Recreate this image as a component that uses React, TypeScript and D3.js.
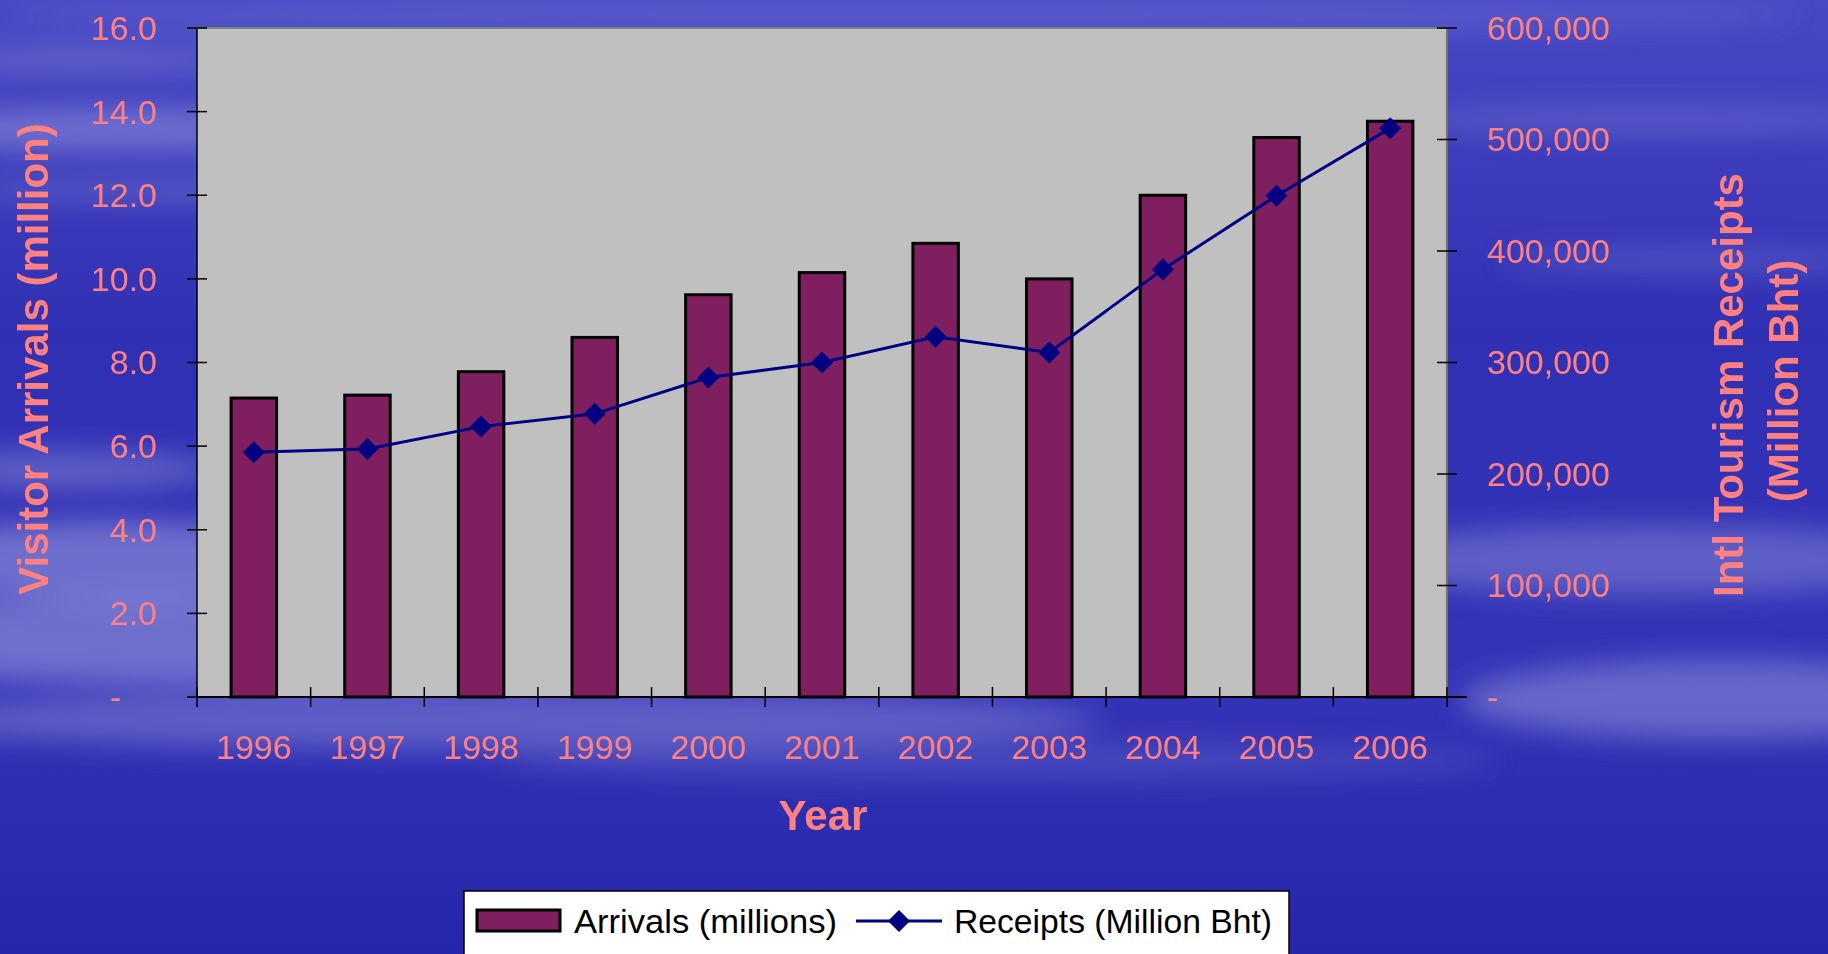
import React from "react";
import * as d3 from "d3";

const years = ["1996","1997","1998","1999","2000","2001","2002","2003","2004","2005","2006"];
const arrivals = [7.15, 7.22, 7.78, 8.6, 9.62, 10.15, 10.85, 10.0, 12.0, 13.38, 13.77];
const receipts = [219500, 222500, 242500, 254000, 286500, 300000, 323000, 309000, 383500, 449500, 510000];
const leftTicks = [0, 2, 4, 6, 8, 10, 12, 14, 16];
const rightTicks = [0, 100000, 200000, 300000, 400000, 500000, 600000];
const leftTitle = "Visitor Arrivals (million)";
const rightTitle1 = "Intl Tourism Receipts";
const rightTitle2 = "(Million Bht)";
const xTitle = "Year";
const legendBar = "Arrivals (millions)";
const legendLine = "Receipts (Million Bht)";

const W = 1828, H = 954;
const L = 197, R = 1447, T = 28, B = 697;
const SALMON = "#FF8080";
const FONT = "Arial, 'Liberation Sans', Helvetica, sans-serif";

export default function App() {
  const x = d3.scaleBand<string>().domain(years).range([L, R]).paddingInner(0.6).paddingOuter(0.3);
  const step = x.step();
  const yL = d3.scaleLinear().domain([0, 16]).range([B, T]);
  const yR = d3.scaleLinear().domain([0, 600000]).range([B, T]);
  const fmtR = d3.format(",");
  const line = d3.line<number>().x((_, i) => (x(years[i]) as number) + x.bandwidth() / 2).y(d => yR(d));
  const diamond = (cx: number, cy: number, r: number) => `M${cx},${cy - r}L${cx + r},${cy}L${cx},${cy + r}L${cx - r},${cy}Z`;
  const streaks = [
    { cx: 120, cy: 130, rx: 260, ry: 22, o: 0.35 },
    { cx: 80, cy: 60, rx: 180, ry: 12, o: 0.25 },
    { cx: 200, cy: 190, rx: 240, ry: 14, o: 0.2 },
    { cx: 120, cy: 560, rx: 260, ry: 40, o: 0.4 },
    { cx: 200, cy: 640, rx: 420, ry: 45, o: 0.4 },
    { cx: 500, cy: 720, rx: 600, ry: 30, o: 0.3 },
    { cx: 60, cy: 470, rx: 160, ry: 20, o: 0.3 },
    { cx: 1650, cy: 120, rx: 250, ry: 14, o: 0.2 },
    { cx: 1700, cy: 260, rx: 200, ry: 12, o: 0.2 },
    { cx: 1650, cy: 560, rx: 300, ry: 35, o: 0.3 },
    { cx: 1720, cy: 700, rx: 260, ry: 40, o: 0.35 },
    { cx: 1000, cy: 760, rx: 500, ry: 20, o: 0.15 },
    { cx: 900, cy: 15, rx: 900, ry: 18, o: 0.15 },
  ];
  return (
    <svg width={W} height={H} style={{ position: "fixed", left: 0, top: 0, display: "block" }} fontFamily={FONT}>
      <defs>
        <linearGradient id="bg" x1="0" y1="0" x2="0" y2="1">
          <stop offset="0" stopColor="#4848c4" />
          <stop offset="0.35" stopColor="#3030b4" />
          <stop offset="0.7" stopColor="#3434b8" />
          <stop offset="1" stopColor="#2626aa" />
        </linearGradient>
        <filter id="blur" x="-50%" y="-200%" width="200%" height="500%">
          <feGaussianBlur stdDeviation="14" />
        </filter>
      </defs>
      <rect x={0} y={0} width={W} height={H} fill="url(#bg)" />
      <g filter="url(#blur)">
        {streaks.map((s, i) => (
          <ellipse key={i} cx={s.cx} cy={s.cy} rx={s.rx} ry={s.ry} fill="#c8c8f0" opacity={s.o} />
        ))}
      </g>

      {/* plot area */}
      <rect x={L} y={T} width={R - L} height={B - T} fill="#C0C0C0" />
      <line x1={L} y1={T} x2={R} y2={T} stroke="#808080" strokeWidth={2} />
      <line x1={R} y1={T} x2={R} y2={B} stroke="#707070" strokeWidth={2} />

      {/* bars */}
      {arrivals.map((v, i) => (
        <rect key={i} x={x(years[i])} y={yL(v)} width={x.bandwidth()} height={B - yL(v)}
          fill="#7F1F5F" stroke="#000" strokeWidth={3} />
      ))}

      {/* axes lines */}
      <line x1={L} y1={T} x2={L} y2={B} stroke="#000" strokeWidth={1.5} />
      <line x1={L} y1={B} x2={R + 20} y2={B} stroke="#000" strokeWidth={2} />

      {/* left ticks */}
      {leftTicks.map(t => (
        <g key={t}>
          <line x1={L - 10} x2={L + 10} y1={yL(t)} y2={yL(t)} stroke="#000" strokeWidth={1.5} />
          {t === 0 ? (
            <text x={110} y={yL(t)} dy="0.35em" fill={SALMON} fontSize={34}>-</text>
          ) : (
            <text x={157} y={yL(t)} dy="0.35em" textAnchor="end" fill={SALMON} fontSize={34}>{t.toFixed(1)}</text>
          )}
        </g>
      ))}

      {/* right ticks */}
      {rightTicks.map(t => (
        <g key={t}>
          <line x1={R - 10} x2={R + 10} y1={yR(t)} y2={yR(t)} stroke="#000" strokeWidth={1.5} />
          <text x={1487} y={yR(t)} dy="0.35em" fill={SALMON} fontSize={34}>{t === 0 ? "-" : fmtR(t)}</text>
        </g>
      ))}

      {/* x ticks */}
      {d3.range(years.length + 1).map(i => (
        <line key={i} x1={L + i * step} x2={L + i * step} y1={B - 10} y2={B + 10} stroke="#000" strokeWidth={1.5} />
      ))}
      {years.map(yv => (
        <text key={yv} x={(x(yv) as number) + x.bandwidth() / 2} y={759} textAnchor="middle" fill={SALMON} fontSize={34}>{yv}</text>
      ))}

      {/* line series */}
      <path d={line(receipts) || ""} fill="none" stroke="#000080" strokeWidth={3} />
      {receipts.map((v, i) => (
        <path key={i} d={diamond((x(years[i]) as number) + x.bandwidth() / 2, yR(v), 11)} fill="#000080" />
      ))}

      {/* titles */}
      <text x={823} y={830} textAnchor="middle" fill={SALMON} fontSize={42} fontWeight="bold">{xTitle}</text>
      <text transform={`translate(48,359) rotate(-90)`} textAnchor="middle" fill={SALMON} fontSize={42} fontWeight="bold">{leftTitle}</text>
      <text transform={`translate(1743,385) rotate(-90)`} textAnchor="middle" fill={SALMON} fontSize={42} fontWeight="bold">{rightTitle1}</text>
      <text transform={`translate(1798,381) rotate(-90)`} textAnchor="middle" fill={SALMON} fontSize={42} fontWeight="bold">{rightTitle2}</text>

      {/* legend */}
      <rect x={464} y={891} width={825} height={80} fill="#fff" stroke="#000" strokeWidth={1.5} />
      <rect x={477} y={910} width={83} height={21} fill="#7F1F5F" stroke="#000" strokeWidth={3} />
      <text x={574} y={933} fill="#000" fontSize={34} textLength={263} lengthAdjust="spacingAndGlyphs">{legendBar}</text>
      <line x1={856} x2={942} y1={921} y2={921} stroke="#000080" strokeWidth={3} />
      <path d={diamond(899, 921, 11)} fill="#000080" />
      <text x={954} y={933} fill="#000" fontSize={34} textLength={318} lengthAdjust="spacingAndGlyphs">{legendLine}</text>
    </svg>
  );
}
